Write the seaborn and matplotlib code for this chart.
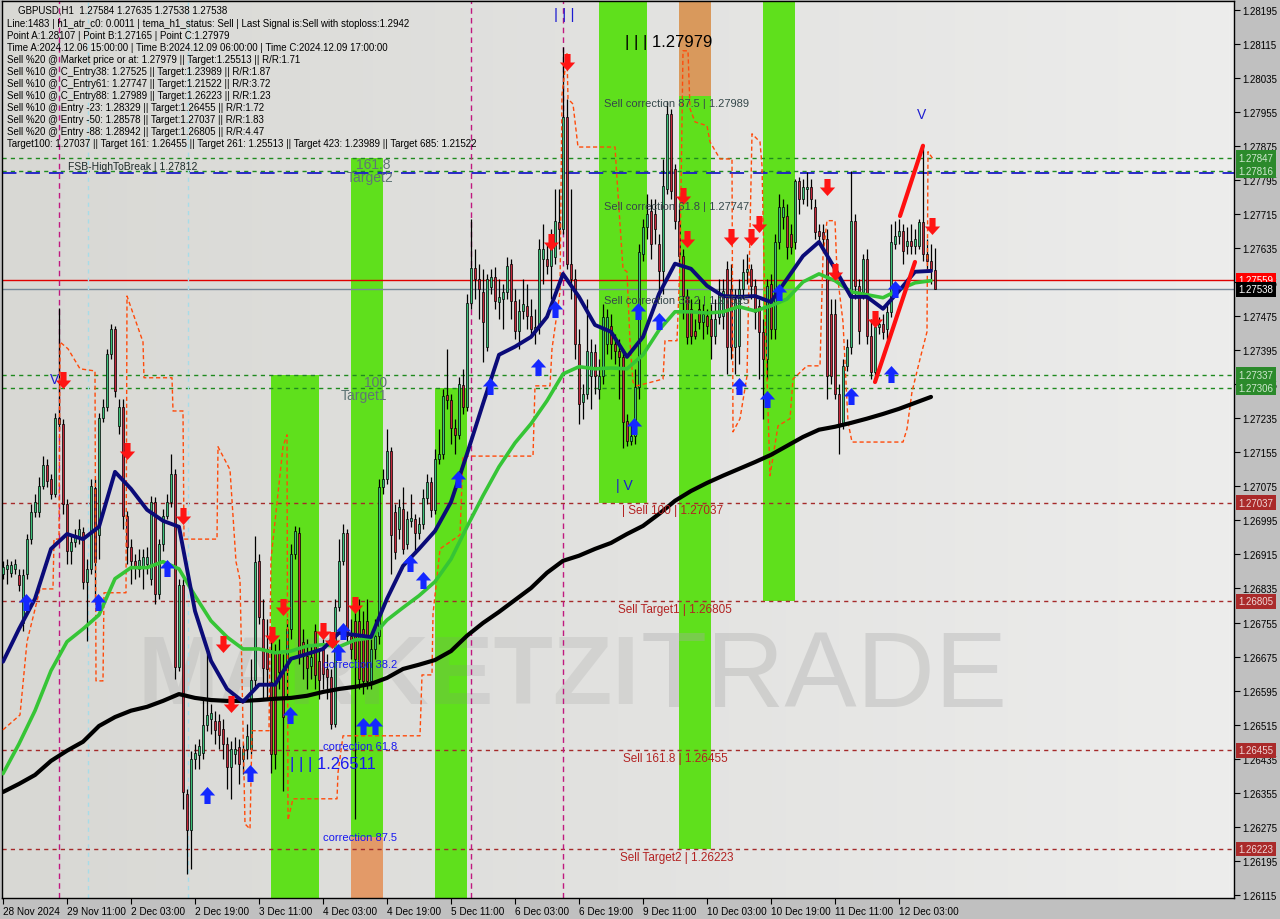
import numpy as np
import pandas as pd
import seaborn as sns
import matplotlib.pyplot as plt
from matplotlib.path import Path
from matplotlib.colors import LinearSegmentedColormap
from matplotlib.transforms import blended_transform_factory

# GBPUSD H1 candles, 28 Nov - 12 Dec 2024
opens = [
    1.26869, 1.26881, 1.26872, 1.26881, 1.26867, 1.26754, 1.26869, 1.26951, 1.27015, 1.27015,
    1.27076, 1.27125, 1.27092, 1.27057, 1.27236, 1.27222, 1.27034, 1.26923, 1.26944, 1.26956,
    1.26968, 1.26851, 1.26881, 1.27071, 1.26961, 1.27236, 1.27262, 1.27386, 1.27445, 1.27217,
    1.27262, 1.27006, 1.26933, 1.26900, 1.26881, 1.26888, 1.26893, 1.26858, 1.27038, 1.26822,
    1.26940, 1.27006, 1.27038, 1.27104, 1.26651, 1.26843, 1.26352, 1.26268, 1.26435, 1.26444,
    1.26449, 1.26515, 1.26529, 1.26524, 1.26524, 1.26505, 1.26470, 1.26416, 1.26447, 1.26463,
    1.26435, 1.26458, 1.26458, 1.26620, 1.26900, 1.26764, 1.26693, 1.26616, 1.26686, 1.26686,
    1.26644, 1.26644, 1.26740, 1.26916, 1.26966, 1.26710, 1.26677, 1.26653, 1.26735, 1.26665,
    1.26693, 1.26646, 1.26627, 1.26517, 1.26792, 1.26900, 1.26966, 1.26724, 1.26759, 1.26759,
    1.26740, 1.26759, 1.26618, 1.26693, 1.26724, 1.27074, 1.27092, 1.27158, 1.27015, 1.26975,
    1.27022, 1.26940, 1.26994, 1.26998, 1.26966, 1.26987, 1.27048, 1.27085, 1.27020, 1.27139,
    1.27151, 1.27290, 1.27278, 1.27212, 1.27196, 1.27313, 1.27262, 1.27506, 1.27588, 1.27562,
    1.27532, 1.27403, 1.27543, 1.27567, 1.27508, 1.27515, 1.27532, 1.27598, 1.27511, 1.27440,
    1.27487, 1.27499, 1.27475, 1.27445, 1.27450, 1.27609, 1.27609, 1.27593, 1.27614, 1.27696,
    1.27680, 1.27943, 1.27598, 1.27562, 1.27410, 1.27273, 1.27292, 1.27334, 1.27391, 1.27304,
    1.27334, 1.27410, 1.27452, 1.27410, 1.27393, 1.27379, 1.27229, 1.27182, 1.27194, 1.27309,
    1.27621, 1.27684, 1.27722, 1.27715, 1.27645, 1.27581, 1.27774, 1.27950, 1.27821, 1.27699,
    1.27616, 1.27522, 1.27492, 1.27440, 1.27492, 1.27461, 1.27475, 1.27468, 1.27428, 1.27473,
    1.27475, 1.27586, 1.27539, 1.27403, 1.27405, 1.27539, 1.27579, 1.27586, 1.27546, 1.27499,
    1.27438, 1.27374, 1.27551, 1.27445, 1.27649, 1.27708, 1.27710, 1.27668, 1.27649, 1.27792,
    1.27750, 1.27774, 1.27778, 1.27731, 1.27675, 1.27673, 1.27656, 1.27480, 1.27480, 1.27292,
    1.27222, 1.27358, 1.27403, 1.27699, 1.27546, 1.27532, 1.27609, 1.27428, 1.27344, 1.27450,
    1.27457, 1.27445, 1.27485, 1.27645, 1.27663, 1.27675, 1.27640, 1.27652, 1.27640, 1.27640,
    1.27696, 1.27621, 1.27605, 1.27584,
]
highs = [
    1.26900, 1.26904, 1.26900, 1.26904, 1.26881, 1.26881, 1.26963, 1.27034, 1.27057, 1.27097,
    1.27146, 1.27139, 1.27104, 1.27248, 1.27494, 1.27234, 1.27045, 1.26963, 1.26975, 1.26998,
    1.26980, 1.26904, 1.27092, 1.27092, 1.27248, 1.27280, 1.27398, 1.27457, 1.27452, 1.27280,
    1.27280, 1.27017, 1.26951, 1.26916, 1.26928, 1.26928, 1.26933, 1.27053, 1.27050, 1.26951,
    1.27022, 1.27057, 1.27151, 1.27116, 1.26858, 1.26858, 1.26364, 1.26454, 1.26470, 1.26482,
    1.26576, 1.26686, 1.26564, 1.26548, 1.26540, 1.26529, 1.26487, 1.26477, 1.26487, 1.26482,
    1.26472, 1.26517, 1.26670, 1.26959, 1.26916, 1.26811, 1.26764, 1.26717, 1.26705, 1.26717,
    1.26681, 1.26764, 1.26940, 1.26982, 1.26980, 1.26740, 1.26717, 1.26705, 1.26752, 1.26693,
    1.26717, 1.26681, 1.26646, 1.26811, 1.26951, 1.26987, 1.26975, 1.26764, 1.26787, 1.26811,
    1.26782, 1.26811, 1.26717, 1.26764, 1.27092, 1.27116, 1.27210, 1.27168, 1.27034, 1.27045,
    1.27074, 1.27017, 1.27057, 1.27010, 1.27003, 1.27069, 1.27104, 1.27097, 1.27163, 1.27210,
    1.27304, 1.27398, 1.27292, 1.27234, 1.27332, 1.27351, 1.27527, 1.27703, 1.27633, 1.27598,
    1.27586, 1.27574, 1.27586, 1.27591, 1.27562, 1.27551, 1.27614, 1.27609, 1.27539, 1.27515,
    1.27562, 1.27551, 1.27515, 1.27492, 1.27656, 1.27691, 1.27645, 1.27680, 1.27774, 1.27774,
    1.28107, 1.27985, 1.27774, 1.27586, 1.27445, 1.27316, 1.27515, 1.27421, 1.27410, 1.27374,
    1.27504, 1.27492, 1.27480, 1.27433, 1.27421, 1.27398, 1.27245, 1.27222, 1.27351, 1.27645,
    1.27703, 1.27762, 1.27750, 1.27750, 1.27668, 1.27844, 1.27979, 1.27962, 1.27832, 1.27727,
    1.27633, 1.27539, 1.27515, 1.27468, 1.27515, 1.27504, 1.27492, 1.27504, 1.27515, 1.27562,
    1.27562, 1.27605, 1.27598, 1.27539, 1.27562, 1.27609, 1.27621, 1.27598, 1.27562, 1.27515,
    1.27468, 1.27562, 1.27574, 1.27668, 1.27762, 1.27750, 1.27738, 1.27691, 1.27797, 1.27802,
    1.27797, 1.27814, 1.27797, 1.27750, 1.27691, 1.27691, 1.27680, 1.27515, 1.27515, 1.27316,
    1.27374, 1.27421, 1.27816, 1.27715, 1.27562, 1.27621, 1.27633, 1.27468, 1.27468, 1.27473,
    1.27480, 1.27504, 1.27691, 1.27699, 1.27703, 1.27691, 1.27684, 1.27691, 1.27680, 1.27703,
    1.27875, 1.27656, 1.27645, 1.27635,
]
lows = [
    1.26858, 1.26846, 1.26862, 1.26869, 1.26829, 1.26735, 1.26858, 1.26940, 1.27003, 1.27003,
    1.27069, 1.27074, 1.27045, 1.27050, 1.27210, 1.27010, 1.26893, 1.26893, 1.26933, 1.26940,
    1.26834, 1.26712, 1.26869, 1.26811, 1.26904, 1.27226, 1.27252, 1.27374, 1.27285, 1.27198,
    1.26975, 1.26893, 1.26846, 1.26858, 1.26862, 1.26834, 1.26869, 1.26843, 1.26799, 1.26811,
    1.26923, 1.26998, 1.27027, 1.26623, 1.26642, 1.26317, 1.26165, 1.26176, 1.26411, 1.26411,
    1.26435, 1.26501, 1.26494, 1.26470, 1.26458, 1.26435, 1.26364, 1.26341, 1.26423, 1.26376,
    1.26400, 1.26435, 1.26447, 1.26599, 1.26752, 1.26576, 1.26576, 1.26402, 1.26411, 1.26599,
    1.26360, 1.26576, 1.26717, 1.26904, 1.26658, 1.26623, 1.26599, 1.26623, 1.26599, 1.26576,
    1.26599, 1.26576, 1.26505, 1.26510, 1.26782, 1.26890, 1.26705, 1.26670, 1.26294, 1.26599,
    1.26587, 1.26599, 1.26599, 1.26670, 1.26705, 1.27057, 1.27081, 1.26869, 1.26904, 1.26951,
    1.26916, 1.26928, 1.26980, 1.26916, 1.26951, 1.26975, 1.27034, 1.27003, 1.27010, 1.27128,
    1.27139, 1.27257, 1.27175, 1.27151, 1.27186, 1.27245, 1.27252, 1.27492, 1.27515, 1.27468,
    1.27367, 1.27393, 1.27527, 1.27492, 1.27468, 1.27445, 1.27515, 1.27468, 1.27421, 1.27398,
    1.27468, 1.27445, 1.27426, 1.27410, 1.27433, 1.27551, 1.27574, 1.27515, 1.27598, 1.27633,
    1.27668, 1.27586, 1.27515, 1.27374, 1.27222, 1.27234, 1.27280, 1.27257, 1.27292, 1.27280,
    1.27316, 1.27386, 1.27374, 1.27363, 1.27280, 1.27165, 1.27170, 1.27172, 1.27175, 1.27280,
    1.27605, 1.27656, 1.27609, 1.27645, 1.27515, 1.27527, 1.27762, 1.27750, 1.27680, 1.27598,
    1.27468, 1.27410, 1.27410, 1.27421, 1.27445, 1.27421, 1.27433, 1.27374, 1.27410, 1.27457,
    1.27445, 1.27339, 1.27374, 1.27339, 1.27363, 1.27515, 1.27551, 1.27515, 1.27445, 1.27327,
    1.27234, 1.27327, 1.27421, 1.27421, 1.27633, 1.27680, 1.27609, 1.27621, 1.27633, 1.27715,
    1.27738, 1.27734, 1.27727, 1.27656, 1.27645, 1.27633, 1.27280, 1.27316, 1.27280, 1.27151,
    1.27210, 1.27346, 1.27386, 1.27515, 1.27410, 1.27515, 1.27410, 1.27327, 1.27332, 1.27433,
    1.27421, 1.27421, 1.27473, 1.27633, 1.27645, 1.27598, 1.27621, 1.27621, 1.27621, 1.27633,
    1.27605, 1.27586, 1.27551, 1.27538,
]
closes = [
    1.26886, 1.26890, 1.26890, 1.26893, 1.26843, 1.26867, 1.26951, 1.27015, 1.27038, 1.27076,
    1.27125, 1.27088, 1.27057, 1.27236, 1.27222, 1.27034, 1.26923, 1.26944, 1.26961, 1.26975,
    1.26851, 1.26881, 1.27076, 1.26898, 1.27236, 1.27262, 1.27386, 1.27445, 1.27299, 1.27262,
    1.27006, 1.26933, 1.26900, 1.26888, 1.26902, 1.26909, 1.26909, 1.27038, 1.26822, 1.26940,
    1.27006, 1.27038, 1.27104, 1.26651, 1.26843, 1.26357, 1.26268, 1.26435, 1.26449, 1.26465,
    1.26515, 1.26538, 1.26543, 1.26503, 1.26491, 1.26470, 1.26416, 1.26458, 1.26458, 1.26423,
    1.26458, 1.26489, 1.26620, 1.26898, 1.26768, 1.26649, 1.26646, 1.26447, 1.26447, 1.26639,
    1.26533, 1.26740, 1.26916, 1.26970, 1.26677, 1.26677, 1.26649, 1.26674, 1.26632, 1.26620,
    1.26634, 1.26627, 1.26517, 1.26792, 1.26900, 1.26966, 1.26724, 1.26693, 1.26670, 1.26623,
    1.26618, 1.26618, 1.26693, 1.26724, 1.27074, 1.27092, 1.27158, 1.26961, 1.26921, 1.27027,
    1.26928, 1.26998, 1.27001, 1.26966, 1.26987, 1.27048, 1.27085, 1.27020, 1.27139, 1.27151,
    1.27287, 1.27278, 1.27212, 1.27196, 1.27316, 1.27262, 1.27506, 1.27588, 1.27562, 1.27539,
    1.27461, 1.27562, 1.27567, 1.27511, 1.27520, 1.27532, 1.27593, 1.27511, 1.27440, 1.27487,
    1.27504, 1.27475, 1.27445, 1.27450, 1.27633, 1.27633, 1.27593, 1.27656, 1.27699, 1.27680,
    1.27943, 1.27598, 1.27562, 1.27410, 1.27269, 1.27292, 1.27393, 1.27391, 1.27334, 1.27334,
    1.27473, 1.27473, 1.27410, 1.27393, 1.27379, 1.27226, 1.27182, 1.27194, 1.27309, 1.27626,
    1.27684, 1.27715, 1.27645, 1.27680, 1.27581, 1.27781, 1.27950, 1.27769, 1.27699, 1.27616,
    1.27522, 1.27426, 1.27428, 1.27428, 1.27461, 1.27480, 1.27452, 1.27428, 1.27468, 1.27527,
    1.27534, 1.27403, 1.27403, 1.27515, 1.27539, 1.27579, 1.27586, 1.27546, 1.27485, 1.27438,
    1.27374, 1.27546, 1.27445, 1.27649, 1.27731, 1.27731, 1.27637, 1.27637, 1.27792, 1.27750,
    1.27778, 1.27778, 1.27750, 1.27673, 1.27663, 1.27656, 1.27334, 1.27334, 1.27292, 1.27222,
    1.27358, 1.27403, 1.27699, 1.27546, 1.27440, 1.27609, 1.27428, 1.27344, 1.27450, 1.27457,
    1.27438, 1.27485, 1.27649, 1.27663, 1.27675, 1.27628, 1.27652, 1.27640, 1.27656, 1.27696,
    1.27621, 1.27605, 1.27586, 1.27538,
]

date_labels = ["28 Nov 2024", "29 Nov 11:00", "2 Dec 03:00", "2 Dec 19:00", "3 Dec 11:00",
               "4 Dec 03:00", "4 Dec 19:00", "5 Dec 11:00", "6 Dec 03:00", "6 Dec 19:00",
               "9 Dec 11:00", "10 Dec 03:00", "10 Dec 19:00", "11 Dec 11:00", "12 Dec 03:00"]

# indicator lines, one value every 4 bars
tema_vals = [
    1.26663, 1.26740, 1.26811, 1.26928, 1.26963, 1.26951, 1.26980, 1.27109, 1.27069, 1.27020,
    1.26994, 1.26980, 1.26782, 1.26665, 1.26599, 1.26569, 1.26609, 1.26609, 1.26670, 1.26681,
    1.26693, 1.26731, 1.26726, 1.26721, 1.26811, 1.26888, 1.26928, 1.26970, 1.27038, 1.27151,
    1.27269, 1.27384, 1.27403, 1.27426, 1.27473, 1.27574, 1.27520, 1.27454, 1.27438, 1.27379,
    1.27426, 1.27527, 1.27598, 1.27586, 1.27546, 1.27522, 1.27520, 1.27522, 1.27508, 1.27562,
    1.27616, 1.27649, 1.27586, 1.27520, 1.27520, 1.27492, 1.27534, 1.27579, 1.27581,
]
ema_vals = [
    1.26400, 1.26470, 1.26548, 1.26642, 1.26710, 1.26740, 1.26773, 1.26858, 1.26884, 1.26884,
    1.26898, 1.26881, 1.26818, 1.26759, 1.26721, 1.26693, 1.26693, 1.26684, 1.26688, 1.26700,
    1.26703, 1.26698, 1.26714, 1.26719, 1.26761, 1.26790, 1.26818, 1.26851, 1.26904, 1.26980,
    1.27053, 1.27121, 1.27177, 1.27222, 1.27276, 1.27339, 1.27356, 1.27351, 1.27353, 1.27351,
    1.27384, 1.27442, 1.27485, 1.27485, 1.27482, 1.27485, 1.27497, 1.27487, 1.27499, 1.27515,
    1.27555, 1.27574, 1.27558, 1.27532, 1.27525, 1.27518, 1.27537, 1.27553, 1.27558,
]
sma_vals = [
    1.26357, 1.26376, 1.26397, 1.26430, 1.26454, 1.26475, 1.26512, 1.26533, 1.26548, 1.26557,
    1.26571, 1.26587, 1.26578, 1.26573, 1.26571, 1.26571, 1.26573, 1.26576, 1.26578, 1.26583,
    1.26592, 1.26599, 1.26604, 1.26611, 1.26625, 1.26646, 1.26656, 1.26667, 1.26688, 1.26724,
    1.26754, 1.26780, 1.26808, 1.26836, 1.26872, 1.26900, 1.26912, 1.26928, 1.26942, 1.26963,
    1.26982, 1.27010, 1.27041, 1.27064, 1.27083, 1.27100, 1.27116, 1.27132, 1.27149, 1.27170,
    1.27191, 1.27208, 1.27215, 1.27224, 1.27234, 1.27245, 1.27257, 1.27271, 1.27285,
]

# dashed orange trailing channel
trail_bar = [0, 4.25, 6, 9.25, 12.5, 12.75, 14, 14.25, 16.25, 19.25, 23, 23.25, 25, 25.25, 30.75,
             31, 35, 35.25, 42.25, 42.5, 45, 45.25, 53.5, 53.75, 56.75, 58.25, 59.25, 60.5, 61.75,
             62.25, 66.5, 67, 70, 71, 71.25, 72.5, 83.5, 83.75, 85, 104.25, 104.75, 107.25, 107.5,
             109.25, 114.25, 115, 132.5, 133, 136.75, 137.25, 139.25, 139.75, 141, 141.25, 142.5,
             143.75, 153, 153.5, 155, 156, 156.75, 157.5, 158.5, 165, 165.5, 168.5, 169.25, 170,
             171.25, 171.75, 173, 176, 176.75, 179.25, 182.25, 182.5, 184.25, 186, 187.25, 189.25,
             189.75, 190.5, 191.75, 193.75, 196.75, 197.5, 201, 204.25, 205, 206, 208, 208.5, 210,
             211.25, 212.25, 225, 226, 227.25, 229.25, 231, 231.25, 232.5]
trail_price = [1.26503, 1.26538, 1.26710, 1.26834, 1.26834, 1.26951, 1.26951, 1.27414, 1.27398,
               1.27351, 1.27346, 1.26618, 1.26618, 1.26825, 1.26825, 1.27522, 1.27414, 1.27330,
               1.27330, 1.27252, 1.27252, 1.26951, 1.26951, 1.27168, 1.27114, 1.26898, 1.26855,
               1.26282, 1.26270, 1.26501, 1.26501, 1.26904, 1.27168, 1.27196, 1.26291, 1.26341,
               1.26341, 1.26402, 1.26489, 1.26489, 1.26632, 1.26632, 1.26775, 1.26928, 1.26961,
               1.27146, 1.27146, 1.27311, 1.27311, 1.27398, 1.27532, 1.27995, 1.28091, 1.27985,
               1.27973, 1.27872, 1.27872, 1.27797, 1.27586, 1.27579, 1.27414, 1.27320, 1.27311,
               1.27327, 1.27417, 1.27417, 1.27602, 1.28098, 1.28098, 1.27962, 1.27931, 1.27922,
               1.27884, 1.27844, 1.27844, 1.27203, 1.27234, 1.27334, 1.27903, 1.27884, 1.27828,
               1.27485, 1.27100, 1.27217, 1.27234, 1.27327, 1.27358, 1.27358, 1.27616, 1.27699,
               1.27699, 1.27579, 1.27461, 1.27226, 1.27179, 1.27179, 1.27210, 1.27297, 1.27374,
               1.27438, 1.27861, 1.27844]

sell_bar = [15, 31, 45, 55, 57, 67.25, 70, 80, 82.25, 88, 137, 141, 170, 171, 182, 187, 189,
            206, 208, 218, 232.25]
sell_price = [1.27325, 1.27158, 1.27006, 1.26705, 1.26564, 1.26726, 1.26792, 1.26735, 1.26714,
              1.26797, 1.27649, 1.28072, 1.27757, 1.27656, 1.27661, 1.27661, 1.27691, 1.27778,
              1.27579, 1.27468, 1.27687]
buy_bar = [5.75, 23.75, 41, 51, 61.75, 71.75, 83.75, 85, 90, 93, 101.75, 105, 113.75, 121.75,
           133.75, 138, 157.75, 158.75, 164, 184, 191, 194, 212, 222, 223]
buy_price = [1.26804, 1.26804, 1.26884, 1.26350, 1.26402, 1.26538, 1.26686, 1.26735, 1.26512,
             1.26512, 1.26895, 1.26855, 1.27092, 1.27311, 1.27356, 1.27492, 1.27217, 1.27487,
             1.27464, 1.27311, 1.27280, 1.27532, 1.27287, 1.27339, 1.27539]

# coloured zones
zone_start = [67, 87, 108, 149, 169, 190]
zone_end = [79, 95, 116, 161, 177, 198]
zone_low = [1.2600, 1.26252, 1.2600, 1.27037, 1.26223, 1.26805]
zone_high = [1.27337, 1.27847, 1.27306, 1.2830, 1.27992, 1.2830]
box_start = [87, 169]
box_end = [95, 177]
box_low = [1.2600, 1.27992]
box_high = [1.26252, 1.2830]
box_colors = ["#e39a68", "#d9995c"]

green_levels = [1.27847, 1.27816, 1.27337, 1.27306]
target_levels = [1.27037, 1.26805, 1.26455, 1.26223]
fsb_level = 1.27812
bid_level = 1.27559
last_level = 1.27538
wave_bars = [14, 117, 140]
day_bars = [21.25, 46.25]
trend_bar = [[218, 228], [224.25, 230]]
trend_price = [[1.27320, 1.27602], [1.27710, 1.27875]]

info_lines = [
    "Line:1483 | h1_atr_c0: 0.0011 | tema_h1_status: Sell | Last Signal is:Sell with stoploss:1.2942",
    "Point A:1.28107 | Point B:1.27165 | Point C:1.27979",
    "Time A:2024.12.06 15:00:00 | Time B:2024.12.09 06:00:00 | Time C:2024.12.09 17:00:00",
    "Sell %20 @ Market price or at: 1.27979 || Target:1.25513 || R/R:1.71",
    "Sell %10 @ C_Entry38: 1.27525 || Target:1.23989 || R/R:1.87",
    "Sell %10 @ C_Entry61: 1.27747 || Target:1.21522 || R/R:3.72",
    "Sell %10 @ C_Entry88: 1.27989 || Target:1.26223 || R/R:1.23",
    "Sell %10 @ Entry -23: 1.28329 || Target:1.26455 || R/R:1.72",
    "Sell %20 @ Entry -50: 1.28578 || Target:1.27037 || R/R:1.83",
    "Sell %20 @ Entry -88: 1.28942 || Target:1.26805 || R/R:4.47",
    "Target100: 1.27037 || Target 161: 1.26455 || Target 261: 1.25513 || Target 423: 1.23989 || Target 685: 1.21522",
]

sns.set_theme(style="white")
plt.rcParams['font.family'] = ['Liberation Sans', 'DejaVu Sans']

fig = plt.figure(figsize=(12.8, 9.2), dpi=100, facecolor="#c0c0c0")
ax = fig.add_axes([2 / 1280, 21 / 920, 1232 / 1280, 897 / 920])

# background gradient
grad = np.linspace(0, 1, 256).reshape(1, -1)
bg = LinearSegmentedColormap.from_list("bg", ["#d8d8d4", "#e2e2e0", "#ededec"])
ax.imshow(grad, extent=[0, 1, 0, 1], transform=ax.transAxes, cmap=bg, aspect="auto", zorder=0)

# watermark
ax.text(0.518, 0.245, "MARKETZI", transform=ax.transAxes, ha="right", va="center",
        fontsize=70, fontweight="bold", color="#8a8a8a", alpha=0.17, zorder=1.5)
ax.text(0.518, 0.245, "TRADE", transform=ax.transAxes, ha="left", va="center",
        fontsize=78, color="#a8a8a8", alpha=0.35, zorder=1.5)

# zones
for s, e, lo, hi in zip(zone_start, zone_end, zone_low, zone_high):
    ax.fill_between([s, e], lo, hi, color="#5fe01c", lw=0, zorder=1)
for s, e, lo, hi, c in zip(box_start, box_end, box_low, box_high, box_colors):
    ax.fill_between([s, e], lo, hi, color=c, lw=0, zorder=1)

# levels
for lv in green_levels:
    ax.axhline(lv, color="#1f8a1f", lw=1, ls=(0, (3, 3)), zorder=2)
for lv in target_levels:
    ax.axhline(lv, color="#a52a2a", lw=1, ls=(0, (3, 3)), zorder=2)
ax.axhline(fsb_level, color="#1c1cc8", lw=1.3, ls=(0, (8, 5)), zorder=2)
ax.axhline(bid_level, color="#e00000", lw=1, zorder=2)
ax.axhline(last_level, color="#778899", lw=1, zorder=2)
for b in wave_bars:
    ax.axvline(b, color="#c0187f", lw=1, ls=(0, (4, 3)), zorder=2)
for b in day_bars:
    ax.axvline(b, color="#a8dce8", lw=1, ls=(0, (3, 3)), zorder=2)

# candles
n = len(closes)
df = pd.DataFrame({"bar": np.arange(n), "open": opens, "high": highs, "low": lows, "close": closes})
rising = df["close"] >= df["open"]
ax.vlines(df["bar"], df["low"], df["high"], color="black", lw=0.9, zorder=3)
body = np.maximum((df["close"] - df["open"]).abs(), 0.00002)
ax.bar(df["bar"], body, bottom=df[["open", "close"]].min(axis=1), width=0.72,
       color=np.where(rising, "#3cbf78", "#c4283a"), edgecolor="black", lw=0.5, zorder=4)

# indicator lines
ma = pd.DataFrame({"bar": np.arange(0, n, 4), "tema": tema_vals, "ema": ema_vals, "sma": sma_vals})
sns.lineplot(x=trail_bar, y=trail_price, sort=False, estimator=None, color="#ff4a0a",
             lw=1, ls=(0, (3, 2)), ax=ax, zorder=5)
sns.lineplot(data=ma, x="bar", y="sma", color="black", lw=3, ax=ax, zorder=5)
sns.lineplot(data=ma, x="bar", y="ema", color="#36c536", lw=2.6, ax=ax, zorder=5)
sns.lineplot(data=ma, x="bar", y="tema", color="#0b0b78", lw=2.8, ax=ax, zorder=6)
for xs, ys in zip(trend_bar, trend_price):
    ax.plot(xs, ys, color="#ff1010", lw=3, zorder=6)

# signal arrows
dv = [(-0.18, 0.5), (0.18, 0.5), (0.18, 0.0), (0.45, 0.0), (0.0, -0.5), (-0.45, 0.0), (-0.18, 0.0), (-0.18, 0.5)]
down_arrow = Path(dv, closed=True)
up_arrow = Path([(x, -y) for x, y in dv], closed=True)
sns.scatterplot(x=sell_bar, y=sell_price, marker=down_arrow, s=150, color="#ff1414", linewidth=0, ax=ax, zorder=7)
sns.scatterplot(x=buy_bar, y=buy_price, marker=up_arrow, s=150, color="#1428ff", linewidth=0, ax=ax, zorder=7)

# labels on chart
lab = dict(fontsize=8, zorder=8)
ax.text(92.5, 1.27832, "161.8", color="#5f7575", ha="center", va="center", fontsize=10, zorder=8)
ax.text(91.75, 1.27802, "Target2", color="#5f7575", ha="center", va="center", fontsize=10, zorder=8)
ax.text(93.25, 1.27320, "100", color="#5f7575", ha="center", va="center", fontsize=10, zorder=8)
ax.text(90.25, 1.27290, "Target1", color="#5f7575", ha="center", va="center", fontsize=10, zorder=8)
ax.text(155.5, 1.28119, "| | | 1.27979", color="black", va="center", fontsize=12, zorder=8)
ax.text(140.25, 1.28185, "| | |", color="#1c1cd0", ha="center", va="center", fontsize=11, zorder=8)
for yv, t in [(1.27976, "Sell correction 87.5 | 1.27989"), (1.27734, "Sell correction 61.8 | 1.27747"),
              (1.27513, "Sell correction 38.2 | 1.27525")]:
    ax.text(150.25, yv, t, color="#35474a", va="center", **lab)
ax.text(153.25, 1.27078, "| V", color="#1c1cd0", va="center", fontsize=10, zorder=8)
for xv, yv, t in [(154.75, 1.27020, "| Sell 100 | 1.27037"), (153.75, 1.26787, "Sell Target1 | 1.26805"),
                  (155, 1.26437, "Sell 161.8 | 1.26455"), (154.25, 1.26205, "Sell Target2 | 1.26223")]:
    ax.text(xv, yv, t, color="#b22222", va="center", fontsize=8.5, zorder=8)
for yv, t in [(1.26658, "correction 38.2"), (1.26465, "correction 61.8"), (1.26252, "correction 87.5")]:
    ax.text(80, yv, t, color="#1818f0", va="center", **lab)
ax.text(71.75, 1.26423, "| | | 1.26511", color="#1818f0", va="center", fontsize=12, zorder=8)
ax.text(16.25, 1.27828, "FSB-HighToBreak | 1.27812", color="#1e2a2a", va="center", fontsize=7.5, zorder=8)
ax.text(13, 1.27327, "V", color="#1c1cd0", ha="center", va="center", fontsize=10, zorder=8)
ax.text(229.75, 1.27950, "V", color="#1c1cd0", ha="center", va="center", fontsize=10, zorder=8)

# axes
ax.set_xlim(-0.25, 307.75)
ax.set_ylim(1.26108, 1.28215)
yt = np.round(np.arange(1.26115, 1.28196, 0.0008), 5)
ax.set_yticks(yt)
ax.set_yticklabels([f"{v:.5f}" for v in yt])
ax.yaxis.tick_right()
xt = np.arange(0, n, 16)
ax.set_xticks(xt)
ax.set_xticklabels(date_labels, ha="left")
ax.tick_params(axis="y", right=True, left=False, direction="out", length=4, width=0.8,
               labelsize=7, pad=2, colors="black")
ax.tick_params(axis="x", bottom=True, direction="out", length=4, width=0.8,
               labelsize=7.2, pad=2, colors="black")
ax.set_xlabel("")
ax.set_ylabel("")
ax.grid(False)
for sp in ax.spines.values():
    sp.set_color("black")
    sp.set_linewidth(1)

# price boxes on right axis
trans = blended_transform_factory(ax.transAxes, ax.transData)
tags = [(1.27847, "#2b8a2b", "#cfe8cf"), (1.27816, "#2b8a2b", "#cfe8cf"), (1.27559, "#ff0000", "white"),
        (1.27538, "black", "white"), (1.27337, "#2b8a2b", "#cfe8cf"), (1.27306, "#2b8a2b", "#cfe8cf"),
        (1.27037, "#aa2a2a", "#f0d8d8"), (1.26805, "#aa2a2a", "#f0d8d8"),
        (1.26455, "#aa2a2a", "#f0d8d8"), (1.26223, "#aa2a2a", "#f0d8d8")]
for lv, fc, tc in tags:
    ax.text(1.0035, lv, f"{lv:.5f}", transform=trans, ha="left", va="center", fontsize=7, color=tc,
            bbox=dict(boxstyle="square,pad=0.25", fc=fc, ec="none"), clip_on=False, zorder=10)

# info block
fig.text(18 / 1280, 1 - 10.7 / 920, "GBPUSD,H1  1.27584 1.27635 1.27538 1.27538",
         fontsize=7, color="black", va="center")
for k, line in enumerate(info_lines):
    fig.text(7 / 1280, 1 - (24 + 12 * k) / 920, line, fontsize=7, color="black", va="center")

fig.savefig("out.png", dpi=100, facecolor=fig.get_facecolor())
